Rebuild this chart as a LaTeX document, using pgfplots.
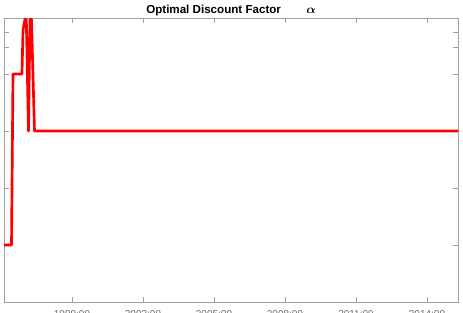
\documentclass[border=0pt]{standalone}
\usepackage{pgfplots}
\pgfplotsset{compat=1.18}
\usepackage{fontspec}
\setmainfont{Liberation Sans}
\usepackage{amsmath,bm}
\definecolor{axgray}{RGB}{160,160,160}
\definecolor{lblgray}{RGB}{110,110,110}
\begin{document}
\begin{tikzpicture}
\begin{axis}[
  at={(0,0)}, anchor=south west,
  scale only axis, width=340.5pt, height=213pt,
  xmin=1996.877, xmax=2016.06,
  ymin=-1.0, ymax=3.982,
  xtick={1999.75,2002.75,2005.75,2008.75,2011.75,2014.75},
  xticklabels={1999:09,2002:09,2005:09,2008:09,2011:09,2014:09},
  ytick={0,1,2,3,3.474,3.737},
  yticklabels={},
  axis line style={axgray},
  tick style={axgray, thin},
  major tick length=3.75pt,
  xticklabel style={font=\fontsize{7.5}{8}\selectfont, text=lblgray, yshift=-3pt},
  title={\textbf{Optimal Discount Factor}\hspace{19pt}$\boldsymbol{\alpha}$},
  title style={font=\fontsize{8.7}{9.5}\selectfont, yshift=-8.25pt},
  clip=true,
]
\addplot[red, line width=2pt, line join=round] coordinates {
(1996.877,0) (1997.194,0) (1997.257,3) (1997.637,3) (1997.68,3.77) (1997.764,3.96)
(1997.82,3.96) (1997.912,2) (1997.975,3.96) (1998.039,3.96) (1998.165,2) (2016.06,2)
};
\end{axis}
\pgfresetboundingbox
\useasboundingbox (-3pt,-8.25pt) rectangle (344.25pt,226.5pt);
\end{tikzpicture}
\end{document}
